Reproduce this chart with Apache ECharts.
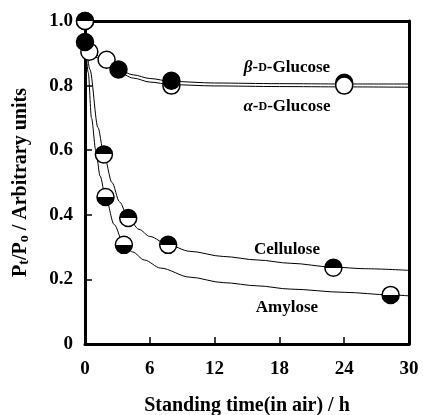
<!DOCTYPE html>
<html>
<head>
<meta charset="utf-8">
<script src="https://cdn.jsdelivr.net/npm/echarts@6/dist/echarts.min.js"></script>
<style>
html,body{margin:0;padding:0;background:#fff}
#chart{width:423px;height:415px}
</style>
</head>
<body>
<div id="chart"></div>
<script>
// tick labels
var xTicks = [0, 6, 12, 18, 24, 30];
var yTicks = [0, 0.2, 0.4, 0.6, 0.8, 1.0];

// measured points [time h, Pt/P0]
var betaPts = [[0, 0.935], [3.1, 0.85], [8, 0.815], [24, 0.809]];
var alphaPts = [[0.4, 0.905], [2, 0.88], [8, 0.80], [24, 0.80]];
var amyPts = [[0, 1.0], [1.9, 0.455], [3.6, 0.307], [28.3, 0.152]];
var cellPts = [[0, 1.0], [1.75, 0.587], [4, 0.39], [7.7, 0.307], [23, 0.236]];

// fitted curves
var betaFit = [[0, 0.94], [1, 0.895], [2, 0.868], [3, 0.85], [4.5, 0.833], [6, 0.822], [8, 0.813], [12, 0.808], [18, 0.806], [24, 0.805], [30, 0.805]];
var alphaFit = [[0, 0.93], [1, 0.888], [2, 0.862], [3, 0.843], [4.5, 0.823], [6, 0.811], [8, 0.803], [12, 0.799], [18, 0.797], [24, 0.796], [30, 0.795]];
var cellFit = [[0, 0.97], [0.45, 0.85], [1.2, 0.67], [1.75, 0.587], [2.5, 0.5], [3.2, 0.44], [4, 0.39], [5, 0.355], [6, 0.333], [7.7, 0.307], [9.7, 0.287], [12.8, 0.271], [16, 0.26], [19, 0.25], [23, 0.238], [26, 0.233], [30, 0.228]];
var amyFit = [[0, 0.96], [0.3, 0.84], [0.6, 0.7], [1.0, 0.6], [1.4, 0.52], [1.9, 0.455], [2.7, 0.37], [3.6, 0.307], [4.4, 0.285], [5.5, 0.26], [7, 0.235], [9.7, 0.207], [12.8, 0.19], [16, 0.18], [19, 0.17], [24, 0.16], [28.3, 0.152], [30, 0.149]];

var FONT = 'Liberation Serif';

function half(topBlack) {
    var a = topBlack ? '#000' : '#fff';
    var b = topBlack ? '#fff' : '#000';
    return {
        type: 'linear', x: 0, y: 0, x2: 0, y2: 1,
        colorStops: [{offset: 0, color: a}, {offset: 0.5, color: a}, {offset: 0.5, color: b}, {offset: 1, color: b}]
    };
}

function fitLine(name, data) {
    return {
        name: name, type: 'line', data: data, showSymbol: false, smooth: 0.3, smoothMonotone: 'x',
        lineStyle: {color: '#000', width: 1}, z: 2, silent: true
    };
}

function marks(name, data, fill) {
    return {
        name: name, type: 'scatter', data: data, symbol: 'circle', symbolSize: 17, clip: false,
        itemStyle: {color: fill, borderColor: '#000', borderWidth: 1.5, opacity: 1}, z: 5
    };
}

function tag(x, y, text) {
    return {
        symbol: 'rect', symbolSize: 1,
        itemStyle: {color: 'rgba(0,0,0,0)'},
        label: {
            show: true, position: 'inside', formatter: text, color: '#000',
            fontFamily: FONT, fontWeight: 'bold', fontSize: 17,
            rich: {
                g: {fontFamily: FONT, fontStyle: 'italic', fontSize: 17, fontWeight: 'bold', color: '#000'},
                d: {fontFamily: FONT, fontSize: 12, fontWeight: 'bold', color: '#000'}
            }
        },
        data: [{coord: [x, y]}]
    };
}

var tickStyle = {color: '#000', fontFamily: FONT, fontWeight: 'bold', fontSize: 19};
var nameStyle = {color: '#000', fontFamily: FONT, fontWeight: 'bold', fontSize: 20};

var s1 = fitLine('beta fit', betaFit);
s1.markPoint = tag(18.7, 0.855, '{g|β}-{d|D}-Glucose');
var s2 = fitLine('alpha fit', alphaFit);
s2.markPoint = tag(18.7, 0.735, '{g|α}-{d|D}-Glucose');
var s3 = fitLine('Cellulose fit', cellFit);
s3.markPoint = tag(18.7, 0.292, 'Cellulose');
var s4 = fitLine('Amylose fit', amyFit);
s4.markPoint = tag(18.7, 0.112, 'Amylose');

var option = {
    animation: false,
    backgroundColor: '#fff',
    grid: {left: 85, right: 14, top: 21, bottom: 71, containLabel: false, outerBoundsMode: 'none'},
    xAxis: [{
        type: 'value', min: 0, max: 30, interval: 6, position: 'bottom',
        axisLine: {lineStyle: {color: '#000', width: 3}},
        axisTick: {inside: true, length: 7, lineStyle: {color: '#000', width: 1.5}},
        axisLabel: Object.assign({margin: 16, formatter: function (v) { return xTicks.indexOf(v) >= 0 ? String(v) : ''; }}, tickStyle),
        splitLine: {show: false},
        name: 'Standing time(in air) / h', nameLocation: 'middle', nameGap: 52,
        nameTextStyle: nameStyle
    }, {
        type: 'value', min: 0, max: 30, position: 'top',
        axisLine: {onZero: false, lineStyle: {color: '#000', width: 3}},
        axisTick: {show: false}, axisLabel: {show: false}, splitLine: {show: false}
    }],
    yAxis: [{
        type: 'value', min: 0, max: 1, interval: 0.2, position: 'left',
        axisLine: {lineStyle: {color: '#000', width: 3}},
        axisTick: {inside: true, length: 7, lineStyle: {color: '#000', width: 1.5}},
        axisLabel: Object.assign({margin: 12, formatter: function (v) {
            for (var i = 0; i < yTicks.length; i++) {
                if (Math.abs(yTicks[i] - v) < 1e-6) return v === 0 ? '0' : yTicks[i].toFixed(1);
            }
            return '';
        }}, tickStyle),
        splitLine: {show: false},
        name: '{a|P}{s|t}{a|/P}{s|o}{a| / Arbitrary units}', nameLocation: 'middle', nameGap: 54,
        nameTextStyle: {
            rich: {
                a: {fontFamily: FONT, fontWeight: 'bold', fontSize: 20, color: '#000'},
                s: {fontFamily: FONT, fontWeight: 'bold', fontSize: 14, color: '#000', padding: [7, 0, 0, 0]}
            }
        }
    }, {
        type: 'value', min: 0, max: 1, position: 'right',
        axisLine: {onZero: false, lineStyle: {color: '#000', width: 3}},
        axisTick: {show: false}, axisLabel: {show: false}, splitLine: {show: false}
    }],
    series: [
        s1, s2, s3, s4,
        marks('Amylose', amyPts, half(false)),
        marks('Cellulose', cellPts, half(true)),
        // late alpha point sits on top of beta, early ones underneath
        marks('alpha-D-Glucose', alphaPts.filter(function (p) { return p[0] < 20; }), '#fff'),
        marks('beta-D-Glucose', betaPts, '#000'),
        marks('alpha-D-Glucose late', alphaPts.filter(function (p) { return p[0] >= 20; }), '#fff')
    ]
};

var myChart = echarts.init(document.getElementById('chart'));
myChart.setOption(option);
window.onresize = myChart.resize;
</script>
</body>
</html>
